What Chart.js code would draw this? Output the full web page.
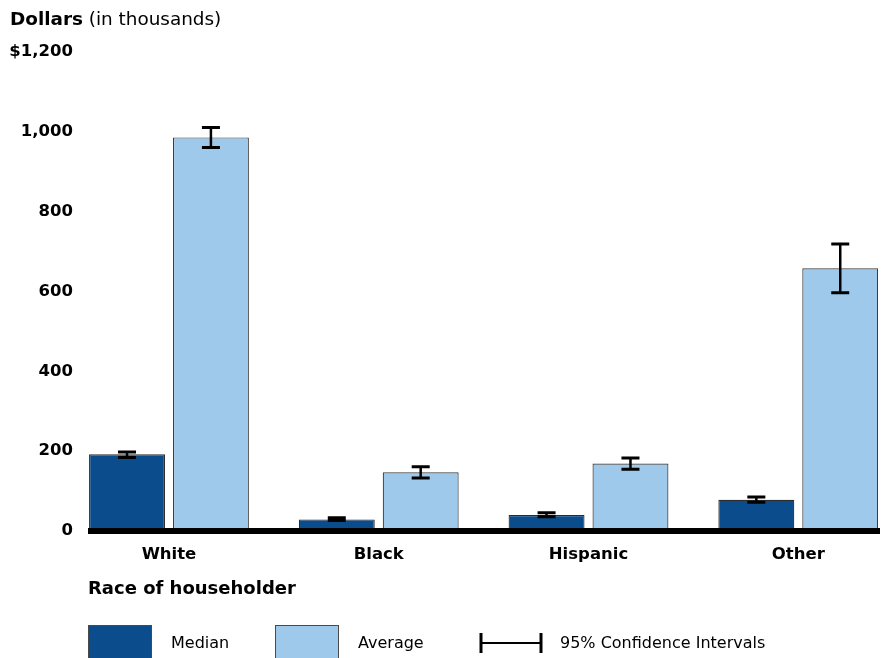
<!DOCTYPE html>
<html>
<head>
<meta charset="utf-8">
<script src="https://cdn.jsdelivr.net/npm/chart.js@4.4.0/dist/chart.umd.min.js"></script>
<style>
  html, body { margin: 0; padding: 0; background: #fff; overflow: hidden; }
  #wrap { position: relative; width: 884px; height: 658px; overflow: hidden; font-family: "DejaVu Sans", sans-serif; color: #000; }
  #c { position: absolute; left: 0; top: 0; }
  .t { position: absolute; white-space: nowrap; line-height: 20px; }
  .sw { position: absolute; width: 64px; height: 40px; box-sizing: border-box; border: 1px solid #4a4a4a; }
</style>
</head>
<body>
<div id="wrap">
  <canvas id="c" width="884" height="658"></canvas>
  <div class="t" style="left:10px;top:9px;font-size:18.4px;"><b>Dollars</b> (in thousands)</div>
  <div class="t" style="left:88px;top:578px;font-size:18px;font-weight:bold;">Race of householder</div>
  <div class="sw" style="left:88px;top:625px;background:#0a4c8c;"></div>
  <div class="t" style="left:171px;top:633px;font-size:16px;">Median</div>
  <div class="sw" style="left:275px;top:625px;background:#9fc9eb;"></div>
  <div class="t" style="left:358px;top:633px;font-size:16px;">Average</div>
  <svg style="position:absolute;left:478px;top:631px;" width="66" height="24">
    <line x1="3" y1="12" x2="63" y2="12" stroke="#000" stroke-width="2"/>
    <line x1="3" y1="2" x2="3" y2="22" stroke="#000" stroke-width="3"/>
    <line x1="63" y1="2" x2="63" y2="22" stroke="#000" stroke-width="3"/>
  </svg>
  <div class="t" style="left:560px;top:633px;font-size:16px;">95% Confidence Intervals</div>
</div>
<script>
// ---- data ----
const categories = ["White", "Black", "Hispanic", "Other"];
const medianValues = [192, 29, 40, 78];
const medianLow    = [184, 26, 36, 72];
const medianHigh   = [198, 33, 46, 85];
const averageValues = [986, 147, 169, 658];
const averageLow    = [961, 133, 155, 597];
const averageHigh   = [1011, 161, 183, 719];
const yTickLabels = ["0", "200", "400", "600", "800", "1,000", "$1,200"];

const X_MIN = -0.386, X_MAX = 3.38;

const errorBars = {
  id: 'errorBars',
  afterDatasetsDraw(chart) {
    const ctx = chart.ctx, y = chart.scales.y;
    chart.data.datasets.forEach((ds, di) => {
      const meta = chart.getDatasetMeta(di);
      meta.data.forEach((bar, i) => {
        const lo = y.getPixelForValue(ds.errLow[i]);
        const hi = y.getPixelForValue(ds.errHigh[i]);
        const x = bar.x, w = 9;
        ctx.save();
        ctx.strokeStyle = '#000';
        ctx.lineWidth = 2.5;
        ctx.beginPath(); ctx.moveTo(x, lo); ctx.lineTo(x, hi); ctx.stroke();
        ctx.lineWidth = 3;
        ctx.beginPath();
        ctx.moveTo(x - w, lo); ctx.lineTo(x + w, lo);
        ctx.moveTo(x - w, hi); ctx.lineTo(x + w, hi);
        ctx.stroke();
        ctx.restore();
      });
    });
    // baseline axis
    const a = chart.chartArea, y0 = y.getPixelForValue(0);
    ctx.save();
    ctx.fillStyle = '#000';
    ctx.fillRect(a.left, y0 - 3, a.right - a.left + 2, 6);
    ctx.restore();
  }
};

new Chart(document.getElementById('c'), {
  type: 'bar',
  data: {
    datasets: [
      {
        label: 'Median',
        data: categories.map((c, i) => ({ x: i, y: medianValues[i] })),
        errLow: medianLow, errHigh: medianHigh,
        backgroundColor: '#0a4c8c', borderColor: '#2b2b2b', borderWidth: 1.2
      },
      {
        label: 'Average',
        data: categories.map((c, i) => ({ x: i, y: averageValues[i] })),
        errLow: averageLow, errHigh: averageHigh,
        backgroundColor: '#9fc9eb', borderColor: '#3c3c3c', borderWidth: 1.2
      }
    ]
  },
  options: {
    responsive: false,
    animation: false,
    devicePixelRatio: 1,
    categoryPercentage: 0.8,
    barPercentage: 0.905,
    layout: { padding: { top: 52, right: 6, left: 0, bottom: 0 } },
    plugins: { legend: { display: false }, tooltip: { enabled: false } },
    scales: {
      x: {
        type: 'linear',
        offset: false,
        bounds: 'data',
        min: X_MIN, max: X_MAX,
        grid: { display: false, drawTicks: false, offset: false },
        border: { display: false },
        afterBuildTicks: s => {
          s.ticks = categories.map((c, i) => ({ value: i }));
          s.min = X_MIN; s.max = X_MAX;
        },
        afterFit: s => { s.height = 127; },
        ticks: {
          autoSkip: false, maxRotation: 0, padding: 14, color: '#000',
          font: { family: 'DejaVu Sans', size: 16.5, weight: 'bold' },
          callback: v => categories[v]
        }
      },
      y: {
        min: 0, max: 1200,
        grid: { display: false, drawTicks: false },
        border: { display: false },
        afterFit: s => { s.width = 88; },
        ticks: {
          stepSize: 200, padding: 15, color: '#000',
          font: { family: 'DejaVu Sans', size: 16.5, weight: 'bold' },
          callback: (v) => yTickLabels[v / 200]
        }
      }
    }
  },
  plugins: [errorBars]
});
</script>
</body>
</html>
